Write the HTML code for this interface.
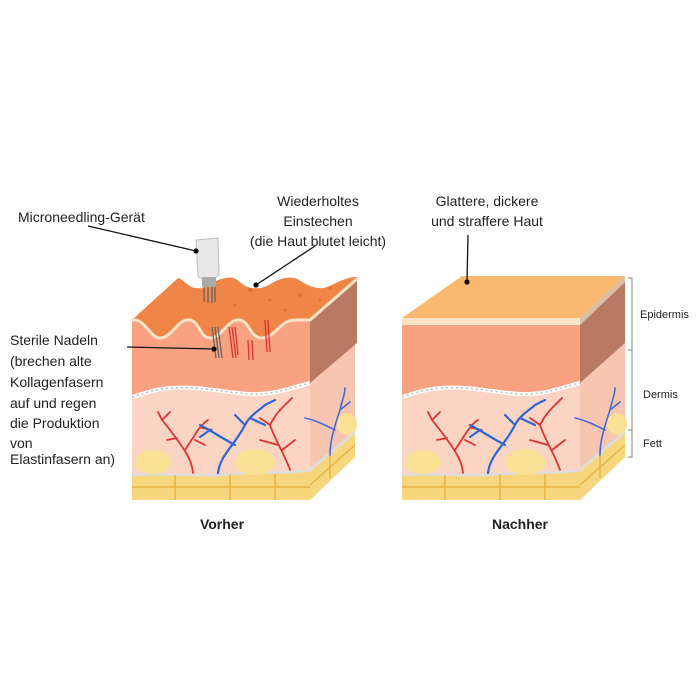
<!DOCTYPE html>
<html><head><style>
body{margin:0;background:#fff}
svg{display:block}
text{font-family:"Liberation Sans",sans-serif;fill:#222}
</style></head><body>
<svg width="696" height="696" viewBox="0 0 696 696" xmlns="http://www.w3.org/2000/svg">
<defs>
<g id="body">
  <rect x="402" y="325" width="178" height="150" fill="#fcd4c4"/>
  <path d="M402,325 L580,325 L580,383 C560,388 545,395 520,394 C490,392 470,386 440,388 C420,390 410,395 402,397 Z" fill="#f9a282"/>
  <path d="M402,397 C410,395 420,390 440,388 C470,386 490,392 520,394 C545,395 560,388 580,383 L625,343" fill="none" stroke="#fff" stroke-width="4"/>
  <path d="M402,397 C410,395 420,390 440,388 C470,386 490,392 520,394 C545,395 560,388 580,383 L625,343" fill="none" stroke="#bbb" stroke-width="1.5" stroke-dasharray="2 3"/>
  <path d="M580,318 L625,282 L625,457 L580,500 Z" fill="#f6c6b3"/>
  <path d="M580,325 L625,282 L625,343 L580,383 Z" fill="#b97a64"/>
  <path d="M402,475 C440,472 470,478 500,474 C530,472 560,474 580,470 L625,432 L625,457 L580,500 L402,500 Z" fill="#f7d77e"/>
  <path d="M402,475 C440,472 470,478 500,474 C530,472 560,474 580,470 L625,432" fill="none" stroke="#ddd" stroke-width="2.5"/>
  <path d="M402,487 L580,487 M445,475 L445,500 M500,474 L500,500 M545,474 L545,500 M600,448 L600,478 M580,485 L625,445" stroke="#e6b446" stroke-width="1.5" fill="none"/>
  <ellipse cx="423" cy="462" rx="18" ry="12" fill="#fbe196"/>
  <ellipse cx="525" cy="462" rx="20" ry="13" fill="#fbe196"/>
  <ellipse cx="617" cy="424" rx="10" ry="11" fill="#fbe196"/>
  <g fill="none" stroke-linecap="round">
    <path d="M463,473 C462,460 455,450 440,430 M455,450 C465,435 470,425 478,420 M440,430 L432,420 M465,440 L475,445 M447,438 L437,440 M472,428 L482,430 M432,420 L428,412 M432,420 L440,412" stroke="#d33" stroke-width="1.8"/>
    <path d="M488,473 C490,455 505,445 515,425 C520,415 530,410 535,405 M505,445 C495,440 480,430 470,425 M515,425 L505,415 M535,405 L545,400 M520,418 L535,425 M480,430 L470,437" stroke="#2f66d6" stroke-width="2.2"/>
    <path d="M560,470 C555,455 545,440 540,425 C545,415 550,410 555,405 M548,445 L530,440 M540,425 L530,418 M555,405 L562,398 M552,450 L565,440" stroke="#d33" stroke-width="1.8"/>
    <path d="M600,455 C600,440 605,425 610,410 C612,400 615,395 615,388 M605,430 C595,425 585,420 575,418 M610,410 L620,402" stroke="#4a6ad0" stroke-width="1.6"/>
  </g>
</g>
</defs>

<use href="#body"/>
<path d="M402,318 L462,276 L625,276 L580,318 Z" fill="#f9b86d"/>
<rect x="402" y="318" width="178" height="7" fill="#fbe3c6"/>
<path d="M580,318 L625,276 L625,282 L580,325 Z" fill="#d6c0a6"/>

<g transform="translate(-270,0)"><use href="#body"/></g>
<rect x="132" y="318" width="178" height="8" fill="#f9a282"/>
<path d="M310,320 L357,279 L357,343 L310,383 Z" fill="#b97a64"/>
<path d="M132,320 C145,318 150,338 160,338 C172,338 178,318 190,320 C200,322 200,338 210,338 C222,338 228,318 240,320 C250,322 250,338 262,338 C275,338 280,320 295,320 L310,320 L357,279 L357,277 C340,277 330,290 318,288 C300,285 300,275 285,278 C270,281 268,290 252,288 C238,286 240,275 225,278 C210,281 210,290 195,288 C188,287 182,278 178,278 L132,320 Z" fill="#ef8546"/>
<path d="M132,320 C145,318 150,338 160,338 C172,338 178,318 190,320 C200,322 200,338 210,338 C222,338 228,318 240,320 C250,322 250,338 262,338 C275,338 280,320 295,320 L310,320 L357,279" fill="none" stroke="#fbe3c6" stroke-width="3"/>
<g fill="#e06f30"><circle cx="250" cy="290" r="2"/><circle cx="270" cy="300" r="1.5"/><circle cx="300" cy="295" r="2"/><circle cx="320" cy="300" r="1.5"/><circle cx="235" cy="305" r="1.5"/><circle cx="285" cy="310" r="1.5"/><circle cx="330" cy="288" r="1.5"/></g>
<g stroke-width="1.3">
<path d="M212,327 L216,358 M215,327 L219,358 M218,327 L222,358" stroke="#666"/>
<path d="M229,327 L233,358 M232,327 L236,358 M235,327 L238,355 M248,340 L249,360 M252,340 L253,360 M265,320 L267,352 M268,320 L270,352" stroke="#e03030"/>
</g>
<path d="M196,240 L218,238 L219,275 C215,280 200,282 198,276 Z" fill="#e8e8e8" stroke="#bbb"/>
<rect x="202" y="277" width="14" height="10" fill="#aaa"/>
<path d="M204,287 L204,302 M208,287 L208,303 M212,287 L212,303 M215,287 L215,302" stroke="#666" stroke-width="1.3"/>

<path d="M628,278 L632,278 L632,457 L628,457 M628,350 L632,350 M628,430 L632,430" fill="none" stroke="#999" stroke-width="1.2"/>

<g stroke="#111" stroke-width="1.3">
<line x1="88" y1="226" x2="196" y2="251"/><circle cx="196" cy="251" r="2"/>
<line x1="315" y1="246" x2="256" y2="285"/><circle cx="256" cy="285" r="2"/>
<line x1="468" y1="235" x2="467" y2="282"/><circle cx="467" cy="282" r="2"/>
<line x1="127" y1="347" x2="214" y2="349"/><circle cx="214" cy="349" r="2"/>
</g>

<g font-size="14">
<text x="18" y="222">Microneedling-Gerät</text>
<text x="318" y="206" text-anchor="middle">Wiederholtes</text>
<text x="318" y="226" text-anchor="middle">Einstechen</text>
<text x="318" y="246" text-anchor="middle">(die Haut blutet leicht)</text>
<text x="487" y="206" text-anchor="middle">Glattere, dickere</text>
<text x="487" y="226" text-anchor="middle">und straffere Haut</text>
<text x="10" y="345">Sterile Nadeln</text>
<text x="10" y="366">(brechen alte</text>
<text x="10" y="387">Kollagenfasern</text>
<text x="10" y="408">auf und regen</text>
<text x="10" y="428">die Produktion</text>
<text x="10" y="448">von</text>
<text x="10" y="464">Elastinfasern an)</text>
<text x="222" y="529" text-anchor="middle" font-weight="bold">Vorher</text>
<text x="520" y="529" text-anchor="middle" font-weight="bold">Nachher</text>
</g>
<g font-size="11">
<text x="640" y="318">Epidermis</text>
<text x="643" y="398">Dermis</text>
<text x="643" y="447">Fett</text>
</g>
</svg>
</body></html>
